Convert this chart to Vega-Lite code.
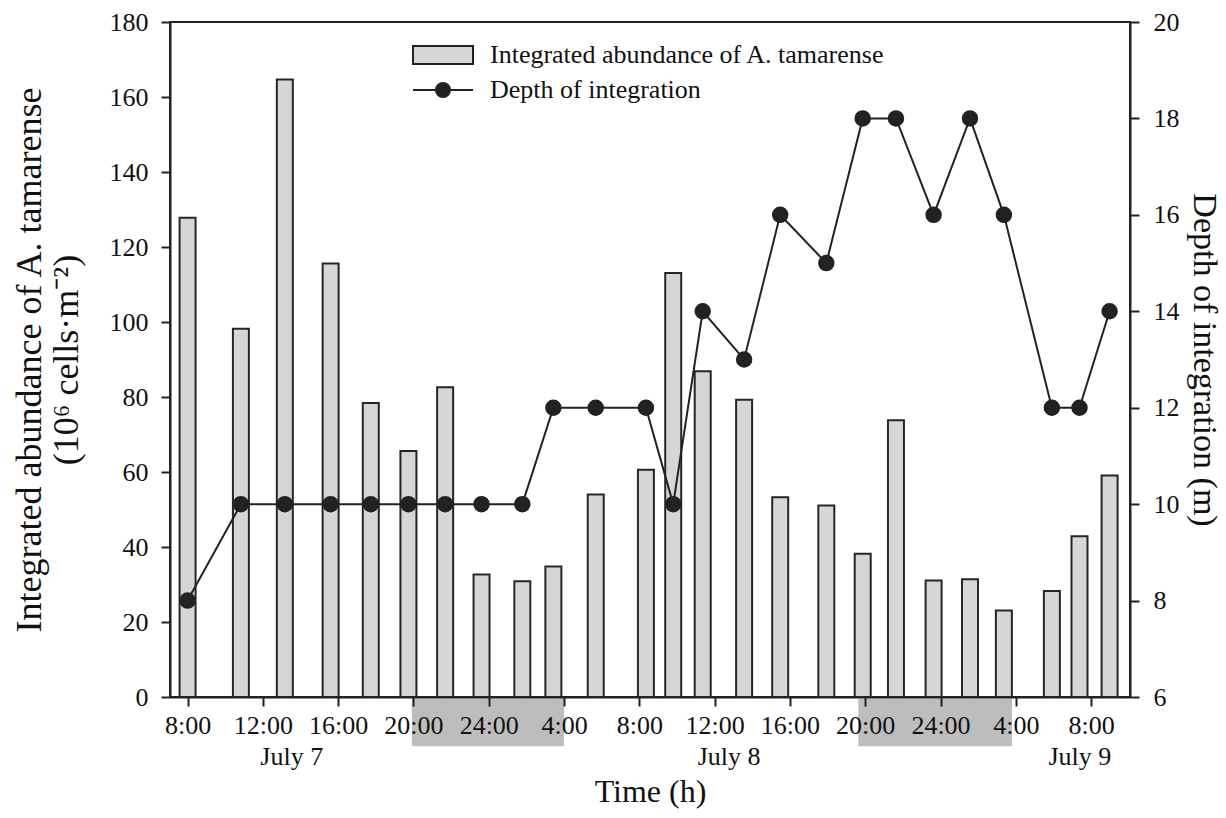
{
  "$schema": "https://vega.github.io/schema/vega-lite/v6.json",
  "width": 960,
  "height": 675,
  "autosize": {"type": "none"},
  "padding": {"left": 170, "top": 22, "right": 96, "bottom": 121},
  "background": "white",
  "config": {
    "font": "Liberation Serif",
    "view": {"stroke": "#222222", "strokeWidth": 2},
    "axis": {
      "labelFont": "Liberation Serif", "labelFontSize": 26, "labelColor": "#111111",
      "titleFont": "Liberation Serif", "titleFontSize": 35, "titleFontWeight": "normal", "titleColor": "#111111",
      "domainColor": "#222222", "domainWidth": 2, "tickColor": "#222222", "tickWidth": 2, "tickSize": 9,
      "grid": false
    },
    "legend": {
      "orient": "none",
      "title": null,
      "padding": 0,
      "labelFont": "Liberation Serif",
      "labelFontSize": 26,
      "labelColor": "#111111",
      "labelLimit": 700,
      "labelOffset": 31,
      "symbolSize": 900,
      "symbolStrokeWidth": 2
    }
  },
  "datasets": {
    "samples": [
      {"time": "2006-07-07T08:00", "abundance": 127.8, "depth": 8},
      {"time": "2006-07-07T10:50", "abundance": 98.2, "depth": 10},
      {"time": "2006-07-07T13:10", "abundance": 164.7, "depth": 10},
      {"time": "2006-07-07T15:36", "abundance": 115.6, "depth": 10},
      {"time": "2006-07-07T17:44", "abundance": 78.4, "depth": 10},
      {"time": "2006-07-07T19:44", "abundance": 65.6, "depth": 10},
      {"time": "2006-07-07T21:41", "abundance": 82.6, "depth": 10},
      {"time": "2006-07-07T23:37", "abundance": 32.7, "depth": 10},
      {"time": "2006-07-08T01:47", "abundance": 30.9, "depth": 10},
      {"time": "2006-07-08T03:26", "abundance": 34.8, "depth": 12},
      {"time": "2006-07-08T05:41", "abundance": 54.0, "depth": 12},
      {"time": "2006-07-08T08:21", "abundance": 60.6, "depth": 12},
      {"time": "2006-07-08T09:48", "abundance": 113.1, "depth": 10},
      {"time": "2006-07-08T11:22", "abundance": 86.9, "depth": 14},
      {"time": "2006-07-08T13:34", "abundance": 79.3, "depth": 13},
      {"time": "2006-07-08T15:29", "abundance": 53.3, "depth": 16},
      {"time": "2006-07-08T17:56", "abundance": 51.1, "depth": 15},
      {"time": "2006-07-08T19:52", "abundance": 38.2, "depth": 18},
      {"time": "2006-07-08T21:38", "abundance": 73.8, "depth": 18},
      {"time": "2006-07-08T23:38", "abundance": 31.1, "depth": 16},
      {"time": "2006-07-09T01:34", "abundance": 31.4, "depth": 18},
      {"time": "2006-07-09T03:22", "abundance": 23.1, "depth": 16},
      {"time": "2006-07-09T05:55", "abundance": 28.3, "depth": 12},
      {"time": "2006-07-09T07:23", "abundance": 42.9, "depth": 12},
      {"time": "2006-07-09T08:59", "abundance": 59.1, "depth": 14}
    ],
    "night": [
      {"time": "2006-07-07T19:55", "end": "2006-07-08T04:00"},
      {"time": "2006-07-08T19:38", "end": "2006-07-09T03:48"}
    ],
    "days": [
      {"time": "2006-07-07T13:32", "label": "July 7"},
      {"time": "2006-07-08T12:46", "label": "July 8"},
      {"time": "2006-07-09T07:24", "label": "July 9"}
    ]
  },
  "encoding": {
    "x": {
      "field": "time", "type": "temporal",
      "scale": {
        "domain": [
          {"year": 2006, "month": 7, "date": 7, "hours": 7, "minutes": 4},
          {"year": 2006, "month": 7, "date": 9, "hours": 10, "minutes": 4}
        ],
        "padding": 0
      },
      "axis": {
        "orient": "bottom",
        "zindex": 2,
        "title": "Time (h)",
        "titleFontSize": 32,
        "titlePadding": 38,
        "labelPadding": 6,
        "labelDx": 5,
        "values": [
          {"year": 2006, "month": 7, "date": 7, "hours": 8},
          {"year": 2006, "month": 7, "date": 7, "hours": 12},
          {"year": 2006, "month": 7, "date": 7, "hours": 16},
          {"year": 2006, "month": 7, "date": 7, "hours": 20},
          {"year": 2006, "month": 7, "date": 8, "hours": 0},
          {"year": 2006, "month": 7, "date": 8, "hours": 4},
          {"year": 2006, "month": 7, "date": 8, "hours": 8},
          {"year": 2006, "month": 7, "date": 8, "hours": 12},
          {"year": 2006, "month": 7, "date": 8, "hours": 16},
          {"year": 2006, "month": 7, "date": 8, "hours": 20},
          {"year": 2006, "month": 7, "date": 9, "hours": 0},
          {"year": 2006, "month": 7, "date": 9, "hours": 4},
          {"year": 2006, "month": 7, "date": 9, "hours": 8}
        ],
        "labelExpr": "hours(datum.value) == 0 ? '24:00' : hours(datum.value) + ':00'"
      }
    }
  },
  "layer": [
    {
      "layer": [
        {
          "data": {"name": "samples"},
          "mark": {"type": "bar", "size": 16, "stroke": "#262626", "strokeWidth": 2},
          "encoding": {
            "y": {
              "field": "abundance", "type": "quantitative",
              "scale": {"domain": [0, 180], "nice": false, "zero": false},
              "axis": {
                "orient": "left",
                "zindex": 2,
                "values": [0, 20, 40, 60, 80, 100, 120, 140, 160, 180],
                "labelPadding": 13,
                "title": ["Integrated abundance of A. tamarense", "(10⁶ cells·m⁻²)"],
                "titleFontSize": 36,
                "titleLineHeight": 37,
                "titlePadding": 24
              }
            },
            "fill": {
              "datum": "Integrated abundance of A. tamarense",
              "scale": {"range": ["#d6d6d6"]},
              "legend": {
                "legendX": 257,
                "legendY": 17,
                "symbolType": "M-2,-0.6H2V0.6H-2Z",
                "symbolStrokeColor": "#222222"
              }
            }
          }
        },
        {
          "data": {"name": "night"},
          "mark": {"type": "rect", "fill": "#bdbdbd"},
          "encoding": {
            "x2": {"field": "end"},
            "y": {"datum": -0.4, "type": "quantitative"},
            "y2": {"datum": -13.1}
          }
        },
        {
          "data": {"name": "days"},
          "mark": {"type": "text", "font": "Liberation Serif", "fontSize": 26, "fill": "#111111", "align": "center", "baseline": "middle"},
          "encoding": {
            "y": {"datum": -16.1, "type": "quantitative"},
            "text": {"field": "label"}
          }
        }
      ]
    },
    {
      "data": {"name": "samples"},
      "mark": {"type": "line", "strokeWidth": 2, "point": {"filled": true, "size": 210, "opacity": 1, "fill": "#222222"}},
      "encoding": {
        "y": {
          "field": "depth", "type": "quantitative",
          "scale": {"domain": [6, 20], "nice": false, "zero": false},
          "axis": {
            "orient": "right",
            "zindex": 2,
            "values": [6, 8, 10, 12, 14, 16, 18, 20],
            "labelPadding": 14,
            "title": "Depth of integration (m)",
            "titleFontSize": 34,
            "titlePadding": 7
          }
        },
        "stroke": {
          "datum": "Depth of integration",
          "scale": {"range": ["#222222"]},
          "legend": {
            "legendX": 257,
            "legendY": 52,
            "symbolType": "M-2,0H2M-0.47,0A0.47,0.47,0,1,1,0.47,0A0.47,0.47,0,1,1,-0.47,0M-0.37,0A0.37,0.37,0,1,1,0.37,0A0.37,0.37,0,1,1,-0.37,0M-0.27,0A0.27,0.27,0,1,1,0.27,0A0.27,0.27,0,1,1,-0.27,0M-0.17,0A0.17,0.17,0,1,1,0.17,0A0.17,0.17,0,1,1,-0.17,0M-0.07,0A0.07,0.07,0,1,1,0.07,0A0.07,0.07,0,1,1,-0.07,0",
            "symbolFillColor": "#222222"
          }
        }
      }
    }
  ],
  "resolve": {"scale": {"y": "independent"}}
}
